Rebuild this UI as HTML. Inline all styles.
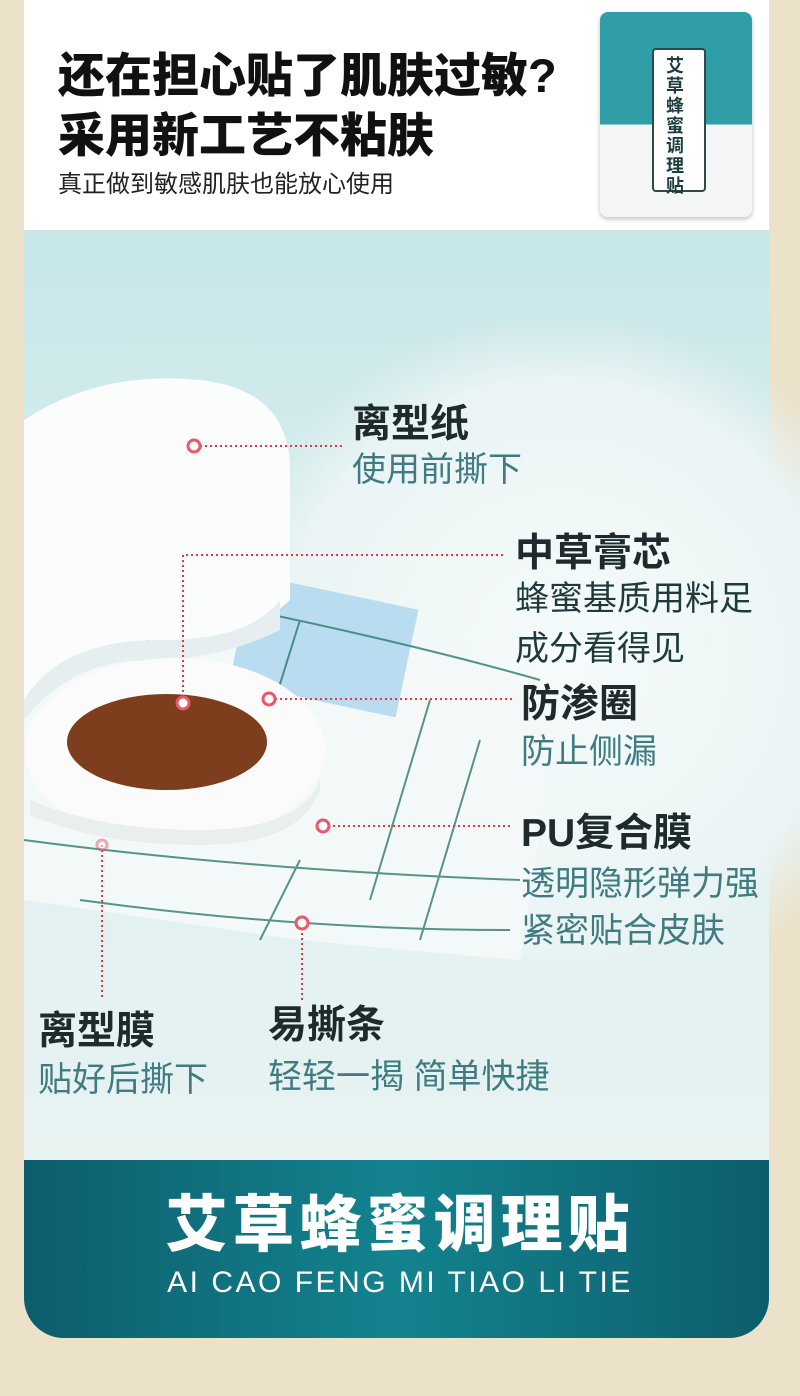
<!DOCTYPE html>
<html><head><meta charset="utf-8"><style>
html,body{margin:0;padding:0}
body{width:800px;height:1396px;background:#ece2ca;position:relative;overflow:hidden;font-family:"Liberation Sans","Noto Sans CJK SC",sans-serif}
.t{position:absolute;white-space:nowrap;line-height:1}
.h{color:#1f2a2c;font-weight:bold;font-size:39px}
.s{color:#3f7b80;font-size:34px}
</style></head><body>
<div style="position:absolute;left:24px;top:0;width:745px;height:230px;background:#fff"></div>
<div class="t" style="left:58px;top:52px;font-size:47px;font-weight:900;color:#111">还在担心贴了肌肤过敏?</div>
<div class="t" style="left:58px;top:112px;font-size:47px;font-weight:900;color:#111">采用新工艺不粘肤</div>
<div class="t" style="left:58px;top:173px;font-size:24px;color:#222">真正做到敏感肌肤也能放心使用</div>
<div style="position:absolute;left:600px;top:12px;width:152px;height:205px;border-radius:8px;background:linear-gradient(#2f9ea6 0,#2f9ea6 55%,#f4f6f6 55%);box-shadow:0 2px 5px rgba(0,0,0,.25)"></div>
<div style="position:absolute;left:652px;top:48px;width:50px;height:140px;border:2px solid #2b4a4c;background:#fff;border-radius:4px"></div>
<div class="t" style="left:666px;top:56px;width:22px;font-size:18px;line-height:20px;white-space:normal;color:#1d3d40;font-weight:bold">艾草蜂蜜调理贴</div>
<div style="position:absolute;left:24px;top:230px;width:745px;height:930px;background:linear-gradient(180deg,#c6e6e8 0%,#dcefef 40%,#e8f3f2 100%)"></div>
<svg style="position:absolute;left:0;top:0" width="800" height="1396">
<defs><radialGradient id="g" cx="0.5" cy="0.5" r="0.5"><stop offset="0" stop-color="#f6fbfb"/><stop offset="0.8" stop-color="#eaf4f4"/><stop offset="1" stop-color="#e4f1f1" stop-opacity="0"/></radialGradient></defs>
<circle cx="560" cy="660" r="350" fill="url(#g)"/>
<path d="M24 560 L200 580 Q400 620 560 700 L520 960 Q400 950 300 940 L24 900 Z" fill="#f3f8f9" opacity="0.95"/>
<rect x="240" y="590" width="170" height="110" fill="#b9dcf0" transform="rotate(12 320 640)"/>
<g stroke="#2f7a6c" stroke-width="2" fill="none" opacity="0.8">
<path d="M24 840 Q250 870 520 880"/><path d="M200 600 Q400 640 540 680"/><path d="M80 900 Q300 930 510 930"/>
<path d="M430 700 L370 900"/><path d="M300 620 L250 780"/><path d="M480 740 L420 940"/><path d="M160 600 L130 700"/>
<path d="M300 860 L260 940"/></g>
<path d="M24 420 Q100 370 200 380 Q290 390 290 470 L290 600 Q250 640 160 640 Q60 640 24 700 Z" fill="#fbfcfc"/>
<path d="M24 700 Q60 640 160 640 Q250 640 280 600 L280 630 Q220 660 150 660 Q70 660 24 720Z" fill="#e6eeef"/>
<ellipse cx="175" cy="750" rx="150" ry="92" fill="#fbfbfb"/>
<path d="M30 800 Q100 830 200 830 Q300 830 320 780 L320 790 Q300 845 200 845 Q100 845 30 815Z" fill="#e9eeef"/>
<ellipse cx="167" cy="742" rx="100" ry="48" fill="#7e3e1e"/>
<g stroke="#e03a4a" stroke-width="2" stroke-dasharray="2 3" fill="none">
<path d="M200 446 H342"/><path d="M183 702 V555 H505"/><path d="M270 699 H512"/><path d="M323 826 H512"/>
<path d="M102 845 V1000"/><path d="M302 923 V1000"/></g>
<g fill="#fff" stroke="#e8596a" stroke-width="3">
<circle cx="194" cy="446" r="6"/><circle cx="183" cy="703" r="6"/><circle cx="269" cy="699" r="6"/><circle cx="323" cy="826" r="6"/><circle cx="302" cy="923" r="6"/><circle cx="102" cy="845" r="5" opacity="0.5"/></g>
</svg>
<div class="t h" style="left:352px;top:405px">离型纸</div>
<div class="t s" style="left:352px;top:453px">使用前撕下</div>
<div class="t h" style="left:515px;top:534px">中草膏芯</div>
<div class="t s" style="left:515px;top:582px;color:#1f3a3c">蜂蜜基质用料足</div>
<div class="t s" style="left:515px;top:632px;color:#1f3a3c">成分看得见</div>
<div class="t h" style="left:521px;top:685px">防渗圈</div>
<div class="t s" style="left:521px;top:735px">防止侧漏</div>
<div class="t h" style="left:521px;top:814px">PU复合膜</div>
<div class="t s" style="left:521px;top:867px">透明隐形弹力强</div>
<div class="t s" style="left:521px;top:914px">紧密贴合皮肤</div>
<div class="t h" style="left:38px;top:1012px">离型膜</div>
<div class="t s" style="left:38px;top:1063px">贴好后撕下</div>
<div class="t h" style="left:268px;top:1006px">易撕条</div>
<div class="t s" style="left:268px;top:1060px">轻轻一揭 简单快捷</div>
<div style="position:absolute;left:24px;top:1160px;width:745px;height:178px;border-radius:0 0 40px 40px;background:linear-gradient(90deg,#0d5d6c 0%,#13838f 50%,#0d5d6c 100%)"></div>
<div class="t" style="left:0;width:800px;text-align:center;top:1195px;font-size:62px;font-weight:900;color:#fff;letter-spacing:5px">艾草蜂蜜调理贴</div>
<div class="t" style="left:0;width:800px;text-align:center;top:1268px;font-size:30px;color:#fff;letter-spacing:2.5px">AI CAO FENG MI TIAO LI TIE</div>
</body></html>
